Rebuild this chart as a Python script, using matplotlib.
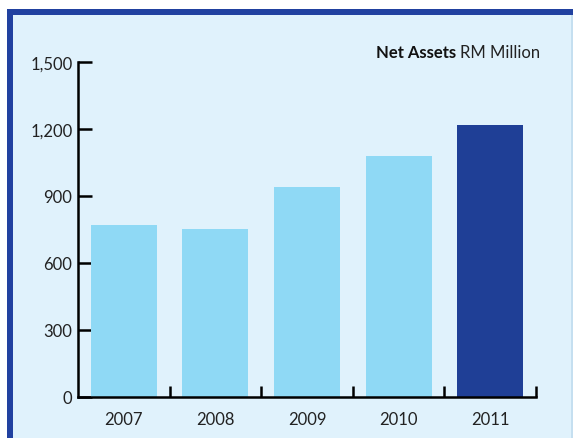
import matplotlib.pyplot as plt
from matplotlib.patches import Rectangle

# data
years = ['2007', '2008', '2009', '2010', '2011']
net_assets = [770, 752, 940, 1079, 1218]
y_ticks = [0, 300, 600, 900, 1200, 1500]
y_labels = ['0', '300', '600', '900', '1,200', '1,500']

light = '#8fd9f5'
dark = '#1f3f96'
panel = '#e0f2fc'
frame = '#2141a0'

plt.rcParams['font.family'] = ['Lato', 'DejaVu Sans']

W, H = 573, 439
fig = plt.figure(figsize=(W / 100, H / 100), dpi=100)
fig.patch.set_facecolor('white')

# frame + panel (pixel coordinates, origin top-left)
def px_rect(x0, y0, x1, y1, color):
    fig.patches.append(Rectangle((x0 / W, 1 - y1 / H), (x1 - x0) / W, (y1 - y0) / H,
                                 transform=fig.transFigure, facecolor=color,
                                 edgecolor='none', zorder=-5))

px_rect(7, 10, 573, 439, frame)
px_rect(13, 16, 571, 439, panel)
px_rect(571, 16, 573, 439, '#c5dff0')

ax = fig.add_axes([78 / W, 1 - 398 / H, 458 / W, (398 - 63) / H])
ax.set_facecolor('none')

x = list(range(len(years)))
colors = [light] * (len(years) - 1) + [dark]
ax.bar(x, net_assets, width=0.72, color=colors, zorder=2)

ax.set_xlim(-0.5, len(years) - 0.5)
ax.set_ylim(0, 1500)
ax.set_yticks(y_ticks)
ax.set_yticklabels(y_labels)
ax.set_xticks(x)
ax.set_xticklabels(years)

# category boundary ticks on the x axis
ax.set_xticks([i + 0.5 for i in x], minor=True)
ax.tick_params(axis='x', which='major', length=0, pad=10, labelsize=12, colors='#222222')
ax.tick_params(axis='x', which='minor', direction='in', length=8, width=1.8, color='black')
ax.tick_params(axis='y', direction='in', length=10, width=1.8, pad=4, labelsize=12,
               colors='black', labelcolor='#222222')

for s in ['top', 'right']:
    ax.spines[s].set_visible(False)
for s in ['left', 'bottom']:
    ax.spines[s].set_linewidth(1.8)
    ax.spines[s].set_zorder(3)

unit = fig.text(540 / W, 1 - 53 / H, 'RM Million', fontsize=12,
                ha='right', va='center', color='#222222')
ax.annotate('Net Assets ', xy=(0, 0.5), xycoords=unit, fontsize=12, fontweight='bold',
            ha='right', va='center', color='#111111', annotation_clip=False)

fig.savefig('out.png', dpi=100)
